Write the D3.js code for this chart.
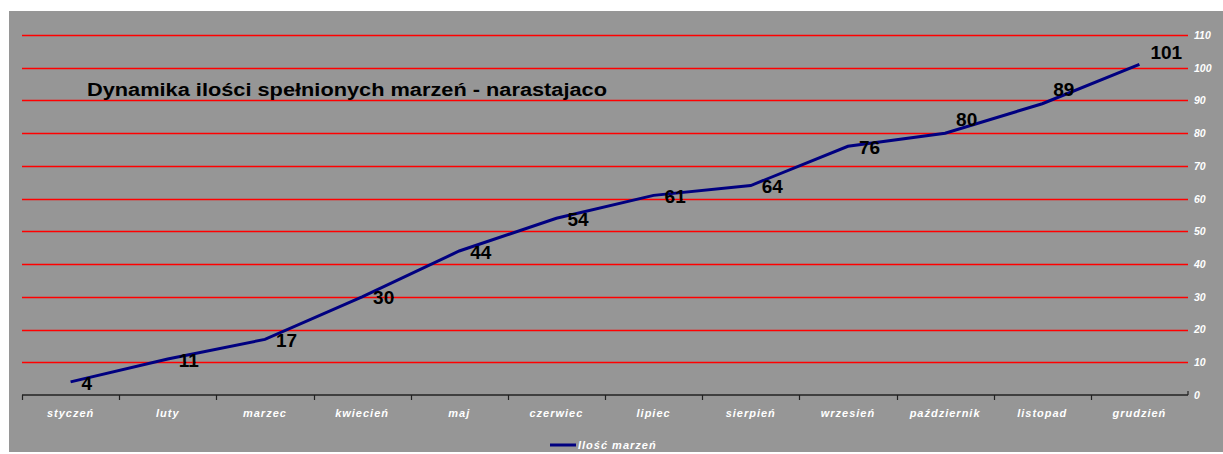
<!DOCTYPE html>
<html>
<head>
<meta charset="utf-8">
<script src="https://cdn.jsdelivr.net/npm/d3@7"></script>
<style>
  body { margin: 0; background: #fff; }
  svg { display: block; }
</style>
</head>
<body>
<svg width="1223" height="454"></svg>
<script>
const months = ['styczeń','luty','marzec','kwiecień','maj','czerwiec','lipiec','sierpień','wrzesień','październik','listopad','grudzień'];
const values = [4, 11, 17, 30, 44, 54, 61, 64, 76, 80, 89, 101];
const yTicks = [0, 10, 20, 30, 40, 50, 60, 70, 80, 90, 100, 110];
const title = 'Dynamika ilości spełnionych marzeń - narastajaco';
const seriesName = 'Ilość marzeń';

// labels for the last points were dragged up a bit in the original
const labelLift = [0, 0, 0, 0, 0, 0, 0, 0, 0, 15, 15, 13];

const svg = d3.select('svg');
const margin = {top: 35, left: 22, right: 35, bottom: 59};
const innerwidth = 1223 - margin.left - margin.right;
const innerheight = 454 - margin.top - margin.bottom;

svg.append('rect')
  .attr('x', 9).attr('y', 11)
  .attr('width', 1214).attr('height', 441)
  .attr('fill', '#969696');

const g = svg.append('g')
  .attr('transform', `translate(${margin.left},${margin.top})`);

const xscale = d3.scaleBand()
  .domain(months)
  .range([0, innerwidth]);

const yscale = d3.scaleLinear()
  .domain([0, 110])
  .range([innerheight, 0]);

const crisp = v => Math.round(v) + 0.5;

// red gridlines
g.selectAll('.grid')
  .data(yTicks.filter(d => d > 0))
  .enter().append('line')
  .attr('x1', 0).attr('x2', innerwidth)
  .attr('y1', d => crisp(yscale(d))).attr('y2', d => crisp(yscale(d)))
  .attr('stroke', '#ff0000')
  .attr('stroke-width', 1.6);

// right side value labels
const yAxis = d3.axisRight(yscale)
  .tickValues(yTicks)
  .tickSize(0)
  .tickPadding(6);

const yAxisG = g.append('g')
  .attr('transform', `translate(${innerwidth},0)`)
  .call(yAxis);
yAxisG.select('.domain').remove();
yAxisG.selectAll('.tick line').remove();
yAxisG.selectAll('text')
  .attr('fill', '#fff')
  .style('font', 'italic bold 10.5px Arial, "Liberation Sans", sans-serif');

// bottom axis with ticks between categories
const xAxisG = g.append('g')
  .attr('transform', `translate(0,${innerheight})`);
xAxisG.append('line')
  .attr('x1', 0).attr('x2', innerwidth)
  .attr('stroke', '#222').attr('stroke-width', 1.5);
xAxisG.selectAll('.tick')
  .data(months.concat(['end']))
  .enter().append('line')
  .attr('x1', (d, i) => i < months.length ? crisp(xscale(d)) : innerwidth)
  .attr('x2', (d, i) => i < months.length ? crisp(xscale(d)) : innerwidth)
  .attr('y1', (d, i) => i < months.length ? 0 : -4)
  .attr('y2', (d, i) => i < months.length ? 5 : 0)
  .attr('stroke', '#222').attr('stroke-width', 1.2);
xAxisG.selectAll('.mlabel')
  .data(months)
  .enter().append('text')
  .attr('x', d => xscale(d) + xscale.bandwidth() / 2)
  .attr('y', 22)
  .attr('text-anchor', 'middle')
  .attr('fill', '#fff')
  .style('letter-spacing', '1px')
  .style('font', 'italic bold 11px Arial, "Liberation Sans", sans-serif')
  .text(d => d);

// the line
const line = d3.line()
  .x((d, i) => xscale(months[i]) + xscale.bandwidth() / 2)
  .y(d => yscale(d));

g.append('path')
  .attr('d', line(values))
  .attr('fill', 'none')
  .attr('stroke', '#000080')
  .attr('stroke-width', 3);

// data labels
g.selectAll('.dlabel')
  .data(values)
  .enter().append('text')
  .attr('x', (d, i) => xscale(months[i]) + xscale.bandwidth() / 2 + 11)
  .attr('y', (d, i) => yscale(d) + 1 - labelLift[i])
  .attr('dy', '0.35em')
  .attr('fill', '#000')
  .style('font', 'bold 19px Arial, "Liberation Sans", sans-serif')
  .text(d => d);

// title
svg.append('text')
  .attr('x', 87).attr('y', 96)
  .attr('textLength', 520)
  .attr('lengthAdjust', 'spacingAndGlyphs')
  .style('font', 'bold 18px Arial, "Liberation Sans", sans-serif')
  .attr('fill', '#000')
  .text(title);

// legend
svg.append('line')
  .attr('x1', 550).attr('x2', 576)
  .attr('y1', 445).attr('y2', 445)
  .attr('stroke', '#000080').attr('stroke-width', 3);
svg.append('text')
  .attr('x', 578).attr('y', 449)
  .attr('fill', '#fff')
  .style('letter-spacing', '1px')
  .style('font', 'italic bold 11px Arial, "Liberation Sans", sans-serif')
  .text(seriesName);
</script>
</body>
</html>
